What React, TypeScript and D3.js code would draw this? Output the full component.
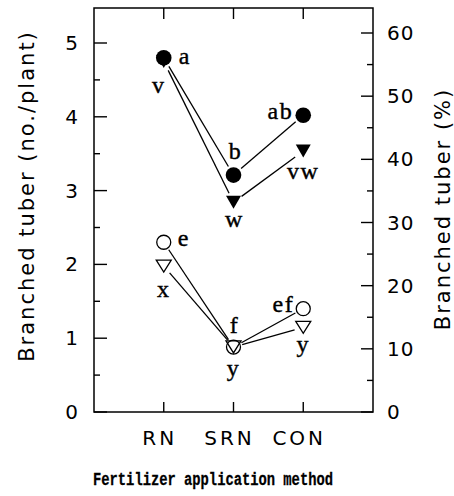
import React from "react";
import * as d3 from "d3";

const categories = ["RN", "SRN", "CON"];
// Branched tuber number (no./plant), left axis
const filledCircleValues = [4.8, 3.21, 4.02];
const filledCircleLetters = ["a", "b", "ab"];
// Branched tuber (%), right axis
const filledTriangleValues = [55.5, 33.2, 41.3];
const filledTriangleLetters = ["v", "w", "vw"];
// Branched tuber number (no./plant), left axis
const openCircleValues = [2.3, 0.88, 1.4];
const openCircleLetters = ["e", "f", "ef"];
// Branched tuber (%), right axis
const openTriangleValues = [23.1, 10.3, 13.4];
const openTriangleLetters = ["x", "y", "y"];

const leftTicks = [0, 1, 2, 3, 4, 5];
const leftMinor = [0.5, 1.5, 2.5, 3.5, 4.5];
const rightTicks = [0, 10, 20, 30, 40, 50, 60];
const rightMinor = [5, 15, 25, 35, 45, 55];

const W = 454;
const H = 496;
const X0 = 94;
const X1 = 373;
const Y0 = 8;
const Y1 = 412;

const sans = "'DejaVu Sans', sans-serif";
const serif = "'Liberation Serif', 'Times New Roman', serif";

type LabelPos = { dx: number; dy: number; anchor: "start" | "middle" | "end" };

// label placement offsets (style, relative to marker)
const fcPos: LabelPos[] = [
  { dx: 15, dy: 6, anchor: "start" },
  { dx: 2, dy: -16, anchor: "middle" },
  { dx: -10, dy: 4, anchor: "end" },
];
const ftPos: LabelPos[] = [
  { dx: -5, dy: 32, anchor: "middle" },
  { dx: 1, dy: 25, anchor: "middle" },
  { dx: 0, dy: 28, anchor: "middle" },
];
const ocPos: LabelPos[] = [
  { dx: 14, dy: 4, anchor: "start" },
  { dx: 1, dy: -14, anchor: "middle" },
  { dx: -9, dy: 3, anchor: "end" },
];
const otPos: LabelPos[] = [
  { dx: 0, dy: 31, anchor: "middle" },
  { dx: 0, dy: 29, anchor: "middle" },
  { dx: 0, dy: 25, anchor: "middle" },
];

function shorten(p: [number, number], q: [number, number], a: number, b: number) {
  const dx = q[0] - p[0];
  const dy = q[1] - p[1];
  const L = Math.sqrt(dx * dx + dy * dy);
  const ux = dx / L;
  const uy = dy / L;
  return [p[0] + ux * a, p[1] + uy * a, q[0] - ux * b, q[1] - uy * b];
}

function downTri(cx: number, cy: number, w: number, h: number) {
  return `M${cx - w / 2},${cy - h / 2}L${cx + w / 2},${cy - h / 2}L${cx},${cy + h / 2}Z`;
}

export default function App() {
  const x = d3.scalePoint<string>().domain(categories).range([X0, X1]).padding(1);
  const yL = d3.scaleLinear().domain([0, 5]).range([Y1, 43]);
  const yR = d3.scaleLinear().domain([0, 60]).range([Y1, 33]);

  const pts = (vals: number[], sc: d3.ScaleLinear<number, number>) =>
    vals.map((v, i) => [x(categories[i]) as number, sc(v)] as [number, number]);

  const fc = pts(filledCircleValues, yL);
  const ft = pts(filledTriangleValues, yR);
  const oc = pts(openCircleValues, yL);
  const ot = pts(openTriangleValues, yR);

  const segs = (p: [number, number][], gap: number) => {
    const out: JSX.Element[] = [];
    for (let i = 0; i < p.length - 1; i++) {
      const s = shorten(p[i], p[i + 1], gap, gap);
      out.push(
        <line key={i} x1={s[0]} y1={s[1]} x2={s[2]} y2={s[3]} stroke="#000" strokeWidth={1.3} />
      );
    }
    return out;
  };

  const labels = (p: [number, number][], letters: string[], pos: LabelPos[]) =>
    p.map((q, i) => (
      <text
        key={i}
        x={q[0] + pos[i].dx}
        y={q[1] + pos[i].dy}
        textAnchor={pos[i].anchor}
        fontFamily={serif}
        fontSize={24}
        letterSpacing={1.5}
        stroke="#000"
        strokeWidth={0.4}
        fill="#000"
      >
        {letters[i]}
      </text>
    ));

  return (
    <svg
      width={W}
      height={H}
      style={{ position: "absolute", left: 0, top: 0, background: "#fff" }}
    >
      <rect x={0} y={0} width={W} height={H} fill="#fff" />
      {/* frame */}
      <rect x={X0} y={Y0} width={X1 - X0} height={Y1 - Y0} fill="none" stroke="#000" strokeWidth={1.5} />
      {/* left ticks */}
      {leftTicks.map((t) => (
        <line key={"lt" + t} x1={X0} x2={X0 + 13} y1={yL(t)} y2={yL(t)} stroke="#000" strokeWidth={1.4} />
      ))}
      {leftMinor.map((t) => (
        <line key={"lm" + t} x1={X0} x2={X0 + 6} y1={yL(t)} y2={yL(t)} stroke="#000" strokeWidth={1.4} />
      ))}
      {leftTicks.map((t) => (
        <text
          key={"ll" + t}
          x={78}
          y={yL(t) + 7}
          textAnchor="end"
          fontFamily={sans}
          fontSize={20}
          fill="#000"
        >
          {t}
        </text>
      ))}
      {/* right ticks */}
      {rightTicks.map((t) => (
        <line key={"rt" + t} x1={X1} x2={X1 - 12} y1={yR(t)} y2={yR(t)} stroke="#000" strokeWidth={1.4} />
      ))}
      {rightMinor.map((t) => (
        <line key={"rm" + t} x1={X1} x2={X1 - 6} y1={yR(t)} y2={yR(t)} stroke="#000" strokeWidth={1.4} />
      ))}
      {rightTicks.map((t) => (
        <text
          key={"rl" + t}
          x={387}
          y={yR(t) + 7}
          textAnchor="start"
          fontFamily={sans}
          fontSize={20}
          letterSpacing={1}
          fill="#000"
        >
          {t}
        </text>
      ))}
      {/* category ticks top & bottom */}
      {categories.map((c) => (
        <g key={"c" + c}>
          <line x1={x(c)} x2={x(c)} y1={Y1} y2={Y1 - 10} stroke="#000" strokeWidth={1.4} />
          <line x1={x(c)} x2={x(c)} y1={Y0} y2={Y0 + 11} stroke="#000" strokeWidth={1.4} />
          <text
            x={(x(c) as number) - 4}
            y={445}
            textAnchor="middle"
            fontFamily={sans}
            fontSize={20}
            letterSpacing={3}
            fill="#000"
          >
            {c}
          </text>
        </g>
      ))}
      {/* axis titles */}
      <text
        transform={`translate(34,196) rotate(-90)`}
        textAnchor="middle"
        fontFamily={sans}
        fontSize={21}
        letterSpacing={2}
        fill="#000"
      >
        Branched tuber (no./plant)
      </text>
      <text
        transform={`translate(450,209) rotate(-90)`}
        textAnchor="middle"
        fontFamily={sans}
        fontSize={21}
        letterSpacing={2}
        fill="#000"
      >
        Branched tuber (%)
      </text>
      <text
        x={93}
        y={485}
        textAnchor="start"
        fontFamily="'Liberation Mono', 'Courier New', monospace"
        fontWeight="bold"
        fontSize={18}
        textLength={240}
        lengthAdjust="spacingAndGlyphs"
        stroke="#000"
        strokeWidth={0.3}
        fill="#000"
      >
        Fertilizer application method
      </text>

      {/* lines */}
      {segs(fc, 10)}
      {segs(ft, 10)}
      {segs(oc, 9)}
      {segs(ot, 9)}

      {/* markers */}
      {ot.map((p, i) => (
        <path key={"ot" + i} d={downTri(p[0], p[1], 15, 12)} fill="#fff" stroke="#000" strokeWidth={1.3} />
      ))}
      {oc.map((p, i) => (
        <circle key={"oc" + i} cx={p[0]} cy={p[1]} r={7} fill="none" stroke="#000" strokeWidth={1.3} />
      ))}
      {ft.map((p, i) => (
        <path key={"ft" + i} d={downTri(p[0], p[1], 15, 13)} fill="#000" />
      ))}
      {fc.map((p, i) => (
        <circle key={"fc" + i} cx={p[0]} cy={p[1]} r={7.8} fill="#000" />
      ))}

      {/* letters */}
      {labels(fc, filledCircleLetters, fcPos)}
      {labels(ft, filledTriangleLetters, ftPos)}
      {labels(oc, openCircleLetters, ocPos)}
      {labels(ot, openTriangleLetters, otPos)}
    </svg>
  );
}
